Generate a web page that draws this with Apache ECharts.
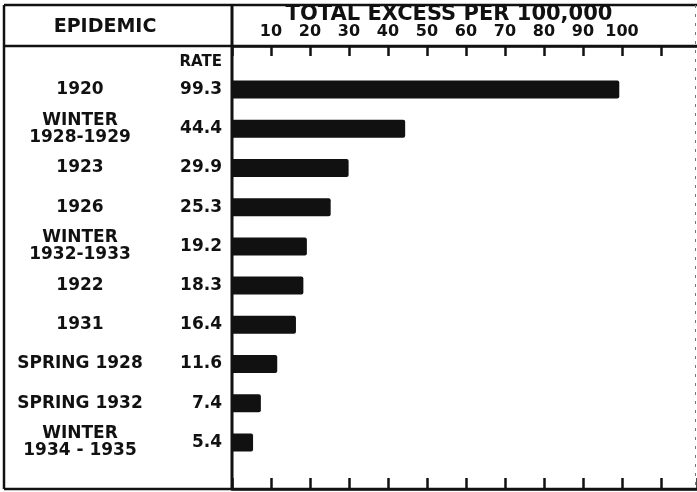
<!DOCTYPE html>
<html><head><meta charset="utf-8">
<script src="https://cdn.jsdelivr.net/npm/echarts/dist/echarts.min.js"></script>
<style>html,body{margin:0;padding:0;background:#fff}#c{width:697px;height:492px}</style>
</head><body><div id="c"></div>
<script>
const epidemics = ['1920', 'WINTER\n1928-1929', '1923', '1926', 'WINTER\n1932-1933', '1922', '1931', 'SPRING 1928', 'SPRING 1932', 'WINTER\n1934 - 1935'];
const rates = [99.3, 44.4, 29.9, 25.3, 19.2, 18.3, 16.4, 11.6, 7.4, 5.4];
const tickLabels = ['10', '20', '30', '40', '50', '60', '70', '80', '90', '100'];
const axisTitle = 'TOTAL EXCESS PER 100,000';
const leftHeader = 'EPIDEMIC';
const rateHeader = 'RATE';

const INK = '#111';
const FONT = '"DejaVu Sans", sans-serif';
const XMAX = 119.23;

const chart = echarts.init(document.getElementById('c'));
const lineStyle = {stroke: INK, lineWidth: 2.5};
const tickAxis = (pos, len, labels) => ({
  type: 'value', gridIndex: 1, position: pos, min: 0, max: XMAX, interval: 10,
  axisLine: {show: true, onZero: false, lineStyle: {color: INK, width: 2.5}}, splitLine: {show: false},
  axisTick: {show: true, inside: true, length: len, lineStyle: {color: INK, width: 2.5}},
  axisLabel: labels ? {show: true, margin: 6, color: INK, fontFamily: FONT, fontWeight: 'bold', fontSize: 16,
    showMinLabel: true, showMaxLabel: false,
    formatter: v => { const s = String(Math.round(v)); return tickLabels.includes(s) && Math.abs(v - Math.round(v)) < 1e-6 ? s : ''; }} : {show: false}
});
chart.setOption({
  backgroundColor: '#fff',
  animation: false,
  grid: [
    {left: 232, right: 0, top: 70, height: 392, outerBoundsMode: 'none', containLabel: false},
    {left: 232, right: 0, top: 46, bottom: 3, outerBoundsMode: 'none', containLabel: false}
  ],
  xAxis: [
    {type: 'value', gridIndex: 0, min: 0, max: XMAX, interval: 10, show: false},
    tickAxis('top', 10, true),
    tickAxis('bottom', 11, false)
  ],
  yAxis: [
    {type: 'category', gridIndex: 0, data: epidemics, inverse: true, position: 'left',
      axisLine: {show: false}, axisTick: {show: false}, splitLine: {show: false},
      axisLabel: {margin: 152, align: 'center', color: INK, fontFamily: FONT, fontWeight: 'bold', fontSize: 17, lineHeight: 17}},
    {type: 'category', gridIndex: 0, data: epidemics, inverse: true, position: 'left', offset: 0,
      axisLine: {show: false}, axisTick: {show: false}, splitLine: {show: false},
      axisLabel: {margin: 10, align: 'right', color: INK, fontFamily: FONT, fontWeight: 'bold', fontSize: 17,
        formatter: (v, i) => rates[i].toFixed(1)}},
    {type: 'value', gridIndex: 1, min: 0, max: 1, show: false}
  ],
  series: [{
    type: 'bar', xAxisIndex: 0, yAxisIndex: 0, data: rates, barWidth: 18,
    itemStyle: {color: INK, borderRadius: [0, 2, 2, 0]}
  }],
  graphic: [
    {type: 'line', z: 100, shape: {x1: 4, y1: 5, x2: 697, y2: 5}, style: lineStyle},
    {type: 'line', z: 100, shape: {x1: 4, y1: 46, x2: 697, y2: 46}, style: lineStyle},
    {type: 'line', z: 100, shape: {x1: 4, y1: 489, x2: 697, y2: 489}, style: lineStyle},
    {type: 'line', z: 100, shape: {x1: 4, y1: 5, x2: 4, y2: 489}, style: lineStyle},
    {type: 'line', z: 100, shape: {x1: 232, y1: 5, x2: 232, y2: 489}, style: {stroke: INK, lineWidth: 3}},
    {type: 'line', z: 100, shape: {x1: 695.5, y1: 5, x2: 695.5, y2: 489}, style: {stroke: '#777', lineWidth: 1, lineDash: [3, 6]}},
    {type: 'text', z: 100, style: {x: 105, y: 27, text: leftHeader, align: 'center', verticalAlign: 'middle', fill: INK, font: 'bold 19px "DejaVu Sans", sans-serif'}},
    {type: 'text', z: 100, style: {x: 449, y: 15, text: axisTitle, align: 'center', verticalAlign: 'middle', fill: INK, font: 'bold 21px "DejaVu Sans", sans-serif'}},
    {type: 'text', z: 100, style: {x: 222, y: 62, text: rateHeader, align: 'right', verticalAlign: 'middle', fill: INK, font: 'bold 15px "DejaVu Sans", sans-serif'}}
  ]
});
</script></body></html>
